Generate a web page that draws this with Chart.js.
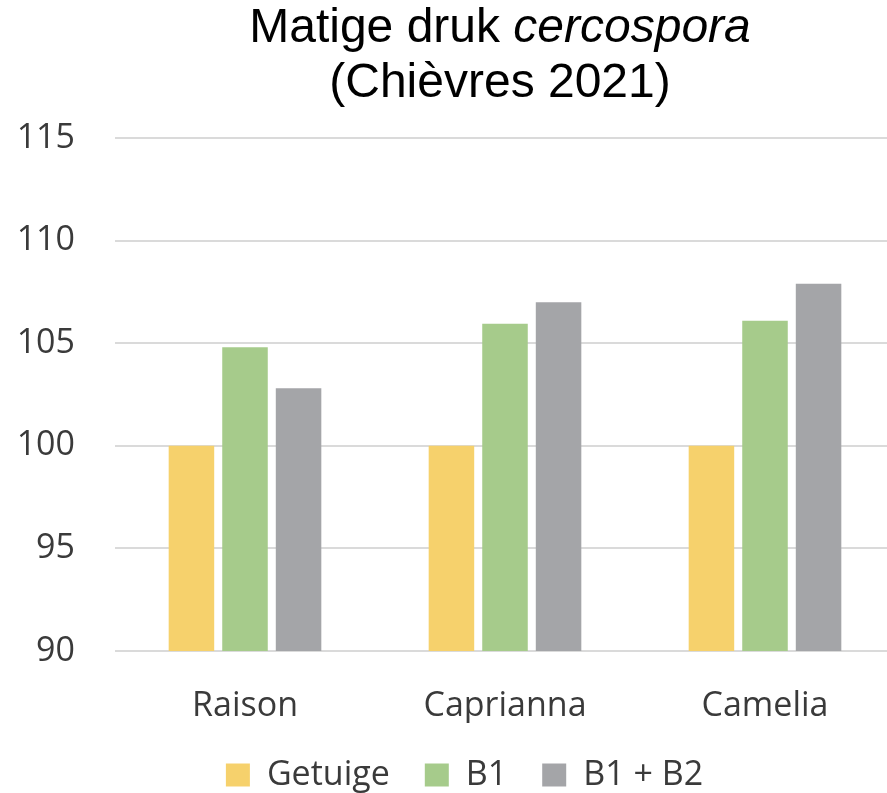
<!DOCTYPE html>
<html>
<head>
<meta charset="utf-8">
<script src="https://cdn.jsdelivr.net/npm/chart.js@4"></script>
<style>
  html, body { margin: 0; padding: 0; background: #ffffff; overflow: hidden; }
  #wrap { width: 887px; height: 793px; overflow: hidden; position: relative; }
  canvas { display: block; }
</style>
</head>
<body>
<div id="wrap"><canvas id="c" width="895" height="802"></canvas></div>
<script>
const categories = ['Raison', 'Caprianna', 'Camelia'];
const seriesNames = ['Getuige', 'B1', 'B1 + B2'];
const getuige = [100, 100, 100];
const b1 = [104.8, 105.95, 106.1];
const b1b2 = [102.8, 107.0, 107.9];
const yTicks = [90, 95, 100, 105, 110, 115];
const titleNormal = 'Matige druk ';
const titleItalic = 'cercospora';
const titleLine2 = '(Chièvres 2021)';

const colors = ['#F6D16C', '#A6CB8B', '#A4A5A8'];

const titlePlugin = {
  id: 'mixedTitle',
  afterDraw(chart) {
    const ctx = chart.ctx;
    const cx = (chart.chartArea.left + chart.chartArea.right) / 2 - 5;
    ctx.save();
    ctx.fillStyle = '#000000';
    ctx.textBaseline = 'alphabetic';
    ctx.textAlign = 'left';
    const fN = '48px "Liberation Sans", Arial, sans-serif';
    const fI = 'italic 48px "Liberation Sans", Arial, sans-serif';
    ctx.font = fN;
    const w1 = ctx.measureText(titleNormal).width;
    ctx.font = fI;
    const w2 = ctx.measureText(titleItalic).width;
    const x0 = cx - (w1 + w2) / 2;
    ctx.font = fN;
    ctx.fillText(titleNormal, x0, 42);
    ctx.font = fI;
    ctx.fillText(titleItalic, x0 + w1, 42);
    ctx.font = fN;
    ctx.textAlign = 'center';
    ctx.fillText(titleLine2, cx, 97);
    ctx.restore();
  }
};

const legendShift = {
  id: 'legendShift',
  afterLayout(chart) {
    const lg = chart.legend;
    if (lg) { lg.left += 17; lg.right += 17; }
  }
};

new Chart(document.getElementById('c'), {
  type: 'bar',
  data: {
    labels: categories,
    datasets: [
      { label: seriesNames[0], data: getuige, backgroundColor: colors[0] },
      { label: seriesNames[1], data: b1, backgroundColor: colors[1] },
      { label: seriesNames[2], data: b1b2, backgroundColor: colors[2] }
    ]
  },
  options: {
    responsive: false,
    devicePixelRatio: 1,
    animation: false,
    layout: { padding: { top: 138, left: 0, right: 0, bottom: 0 } },
    datasets: { bar: { categoryPercentage: 0.618, barPercentage: 0.85 } },
    scales: {
      x: {
        afterFit(axis) { axis.height = 72; },
        grid: { display: false, drawTicks: false },
        border: { display: false },
        ticks: {
          padding: 35,
          color: '#3a3a3a',
          font: { family: '"Open Sans", sans-serif', size: 34 }
        }
      },
      y: {
        min: yTicks[0],
        max: yTicks[yTicks.length - 1],
        afterBuildTicks(axis) { axis.ticks = yTicks.map(v => ({ value: v })); },
        afterFit(axis) { axis.width = 115; },
        grid: { color: '#dadada', lineWidth: 2, drawTicks: false },
        border: { display: false },
        ticks: {
          padding: 40,
          color: '#3a3a3a',
          font: { family: '"Open Sans", sans-serif', size: 34 }
        }
      }
    },
    plugins: {
      title: { display: false },
      tooltip: { enabled: false },
      legend: {
        position: 'bottom',
        labels: {
          boxWidth: 24,
          boxHeight: 23,
          padding: 35,
          color: '#3a3a3a',
          font: { family: '"Open Sans", sans-serif', size: 34 }
        }
      }
    }
  },
  plugins: [titlePlugin, legendShift]
});
</script>
</body>
</html>
